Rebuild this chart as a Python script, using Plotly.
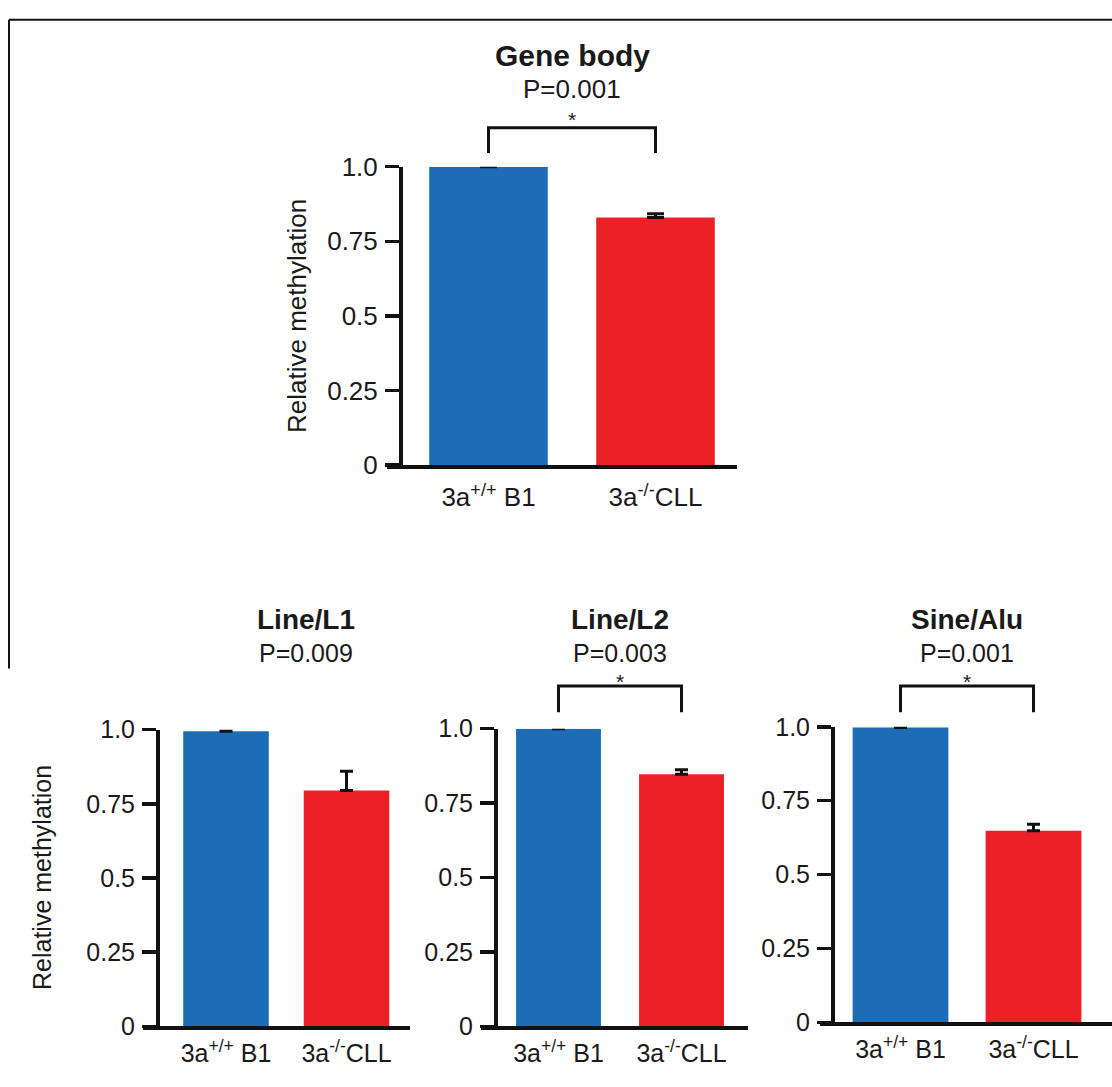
import plotly.graph_objects as go

W, H = 1112, 1087

# ---------------- data ----------------
panels = ["Gene body", "Line/L1", "Line/L2", "Sine/Alu"]
p_values = ["P=0.001", "P=0.009", "P=0.003", "P=0.001"]
significant = [True, False, True, True]
categories = ["3a<sup>+/+</sup> B1", "3a<sup>-/-</sup>CLL"]
wt_values = [1.0, 0.995, 1.0, 0.998]
wt_errors = [0.011, 0.003, 0.003, 0.003]
ko_values = [0.83, 0.795, 0.847, 0.648]
ko_errors = [0.012, 0.065, 0.015, 0.022]
y_ticks = [0, 0.25, 0.5, 0.75, 1.0]
y_tick_labels = ["0", "0.25", "0.5", "0.75", "1.0"]

BLUE = "#1c6db6"
RED = "#ec2127"
INK = "#1a1a1a"
FONT = "Liberation Sans, Arial, sans-serif"

# ---------------- layout geometry (pixels) ----------------
geo = [
    dict(xl=387, xr=737, yax=400, c0=488.5, c1=655.5, bw=0.71, yt=156, yb=463, title_x=0.5,
         ytitle=297, fs_title=30, fs_p=26, fs_tick=26, fs_cat=26, fs_yt=26, cap=8.5, stand=6),
    dict(xl=143, xr=410, yax=157, c0=226, c1=346.5, bw=0.71, yt=735, yb=1040, title_x=0.66,
         ytitle=42, fs_title=28, fs_p=25, fs_tick=25, fs_cat=25, fs_yt=25, cap=6.5, stand=2),
    dict(xl=481, xr=748, yax=495, c0=558.5, c1=681.5, bw=0.69, yt=734, yb=1040, title_x=0.5,
         ytitle=None, fs_title=28, fs_p=25, fs_tick=25, fs_cat=25, fs_yt=25, cap=6.5, stand=2),
    dict(xl=820, xr=1112, yax=832, c0=900.5, c1=1033.5, bw=0.72, yt=732, yb=1036, title_x=0.5,
         ytitle=None, fs_title=28, fs_p=25, fs_tick=25, fs_cat=25, fs_yt=25, cap=6.5, stand=2),
]
# label heights (pixel rows) for title / p-value / star / bracket, per panel
rows_px = [
    dict(title=42, p=76, star=107, br_top=116, br_bot=142),
    dict(title=622, p=656, star=685, br_top=690, br_bot=717),
    dict(title=622, p=656, star=685, br_top=690, br_bot=717),
    dict(title=622, p=656, star=685, br_top=690, br_bot=717),
]

fig = go.Figure()
layout = dict(
    width=W, height=H, margin=dict(l=0, r=0, t=0, b=0),
    paper_bgcolor="white", plot_bgcolor="white",
    showlegend=False, font=dict(family=FONT, color=INK),
)
annotations = []
shapes = []

for i, g in enumerate(geo):
    n = "" if i == 0 else str(i + 1)
    xname, yname = "x" + n, "y" + n
    s = g["c1"] - g["c0"]
    xrange = [(g["xl"] - g["c0"]) / s, (g["xr"] - g["c0"]) / s]
    ydom = [1 - g["yb"] / H, 1 - g["yt"] / H]
    xdom = [g["xl"] / W, min(g["xr"] / W, 1)]

    def dom(px, g=g):
        return (g["yb"] - px) / (g["yb"] - g["yt"])

    fig.add_trace(go.Bar(
        x=[0, 1], y=[wt_values[i], ko_values[i]],
        width=g["bw"], marker=dict(color=[BLUE, RED], line=dict(width=0)),
        error_y=dict(type="data", symmetric=False,
                     array=[wt_errors[i], ko_errors[i]], arrayminus=[0, 0],
                     color="#111", thickness=3, width=g["cap"]),
        xaxis=xname, yaxis=yname, hoverinfo="skip",
    ))

    layout["xaxis" + n] = dict(
        domain=xdom, range=xrange, anchor=yname, showgrid=False, zeroline=False,
        showline=True, linecolor="#111", linewidth=4,
        tickmode="array", tickvals=[0, 1], ticktext=categories, ticks="",
        ticklabelstandoff=g["stand"],
        tickfont=dict(size=g["fs_cat"], family=FONT, color=INK),
        fixedrange=True,
    )
    layout["yaxis" + n] = dict(
        domain=ydom, range=[0, 1], anchor="free", position=g["yax"] / W,
        showgrid=False, zeroline=False,
        showline=True, linecolor="#111", linewidth=3.5,
        tickmode="array", tickvals=y_ticks, ticktext=y_tick_labels,
        ticks="outside", ticklen=14, tickwidth=3.5, tickcolor="#111",
        ticklabelstandoff=2,
        tickfont=dict(size=g["fs_tick"], family=FONT, color=INK),
        fixedrange=True,
    )

    yd = yname + " domain"
    r = rows_px[i]
    annotations.append(dict(text="<b>" + panels[i] + "</b>", x=g["title_x"],
                            xref=xname, y=dom(r["title"]), yref=yd, showarrow=False,
                            font=dict(size=g["fs_title"], family=FONT, color=INK),
                            xanchor="center", yanchor="middle"))
    annotations.append(dict(text=p_values[i], x=g["title_x"], xref=xname,
                            y=dom(r["p"]), yref=yd, showarrow=False,
                            font=dict(size=g["fs_p"], family=FONT, color=INK),
                            xanchor="center", yanchor="middle"))
    if significant[i]:
        annotations.append(dict(text="*", x=0.5, xref=xname, y=dom(r["star"]), yref=yd,
                                showarrow=False, font=dict(size=21, family=FONT, color=INK),
                                xanchor="center", yanchor="middle"))
        yt_, yb_ = dom(r["br_top"]), dom(r["br_bot"])
        shapes.append(dict(type="path", xref=xname, yref=yd,
                           path=f"M 0 {yb_} L 0 {yt_} L 1 {yt_} L 1 {yb_}",
                           line=dict(color="#111", width=3)))
    if g["ytitle"] is not None:
        annotations.append(dict(text="Relative methylation", x=g["ytitle"] / W, xref="paper",
                                y=sum(ydom) / 2, yref="paper", textangle=-90, showarrow=False,
                                font=dict(size=g["fs_yt"], family=FONT, color=INK),
                                xanchor="center", yanchor="middle"))

# figure frame lines (top and left)
shapes.append(dict(type="line", xref="paper", yref="paper", x0=9 / W, x1=1, y0=1 - 5 / H, y1=1 - 5 / H,
                   line=dict(color="#111", width=2)))
shapes.append(dict(type="line", xref="paper", yref="paper", x0=9 / W, x1=9 / W, y0=1 - 5 / H, y1=1 - 672 / H,
                   line=dict(color="#111", width=2)))

layout["annotations"] = annotations
layout["shapes"] = shapes
fig.update_layout(**layout)
fig.write_html("out.html", config={"displayModeBar": False, "staticPlot": True},
               post_script="document.body.style.margin='0';document.body.style.overflow='hidden';")
